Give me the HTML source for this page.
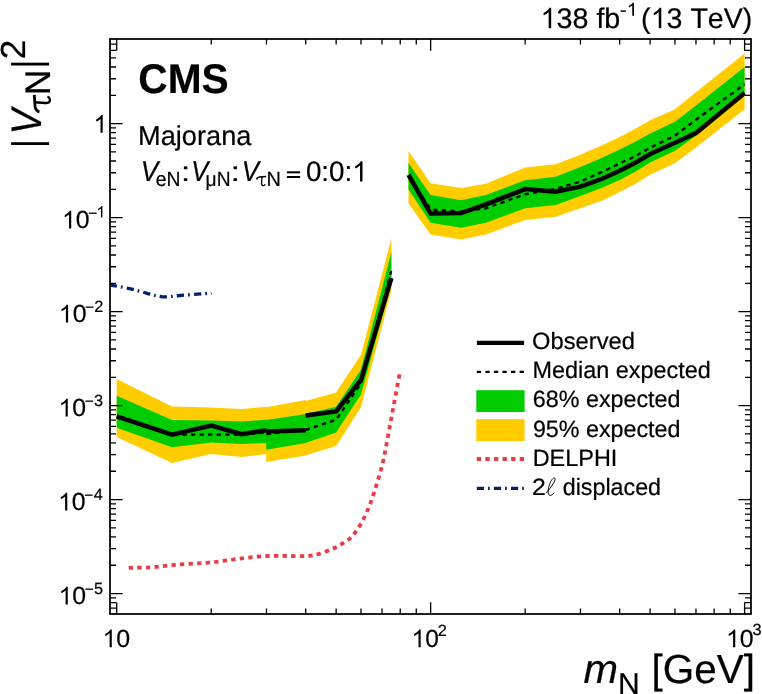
<!DOCTYPE html>
<html><head><meta charset="utf-8"><style>html,body{margin:0;padding:0;background:#fff}svg{display:block}text{font-kerning:none;font-variant-ligatures:none;text-rendering:geometricPrecision;fill:#000;stroke:#000;stroke-width:0.22px}</style></head><body>
<svg width="762" height="694" viewBox="0 0 762 694">
<rect width="762" height="694" fill="#fff"/>
<g style="will-change:transform">
<defs><clipPath id="cp"><rect x="110.0" y="39.0" width="641.0" height="575.0"/></clipPath></defs>
<polygon points="116.7,378.9 172.0,406.6 211.2,407.5 241.6,408.9 266.8,406.8 266.8,454.0 241.6,457.0 211.2,453.9 172.0,462.9 116.7,436.9" fill="#ffcc00"/>
<polygon points="266.2,407.2 306.0,399.9 306.0,455.5 266.2,462.1" fill="#ffcc00"/>
<polygon points="305.4,400.9 336.1,392.5 361.0,354.7 391.4,238.6 391.4,289.6 361.0,407.2 336.1,446.1 305.4,455.5" fill="#ffcc00"/>
<polygon points="408.5,151.0 430.6,183.2 461.1,188.1 485.9,183.7 525.2,167.5 555.6,164.2 580.4,154.7 601.5,145.4 619.7,137.1 635.7,128.4 650.1,120.2 675.0,109.2 696.0,92.2 744.6,53.4 744.6,109.2 696.0,147.5 675.0,163.3 650.1,174.8 635.7,183.7 619.7,192.0 601.5,200.9 580.4,208.2 555.6,216.8 525.2,220.0 485.9,234.6 461.1,239.6 430.6,234.6 408.5,203.4" fill="#ffcc00"/>
<polygon points="116.7,395.7 172.0,419.9 211.2,420.5 241.6,421.5 266.8,419.8 266.8,442.9 241.6,444.0 211.2,442.5 172.0,447.2 116.7,427.8" fill="#00cc00"/>
<polygon points="266.2,420.1 306.0,413.9 306.0,442.9 266.2,449.7" fill="#00cc00"/>
<polygon points="305.4,413.9 336.1,406.8 361.0,369.4 391.4,252.1 391.4,282.7 361.0,394.6 336.1,432.4 305.4,442.9" fill="#00cc00"/>
<polygon points="408.5,163.0 430.6,195.1 461.1,200.3 485.9,195.1 525.2,180.2 555.6,176.7 580.4,167.1 601.5,158.0 619.7,149.5 635.7,141.6 650.1,133.5 675.0,121.8 696.0,105.5 744.6,67.0 744.6,95.2 696.0,135.7 675.0,150.8 650.1,162.5 635.7,171.6 619.7,180.0 601.5,188.1 580.4,196.0 555.6,205.0 525.2,208.3 485.9,222.7 461.1,227.8 430.6,222.7 408.5,189.6" fill="#00cc00"/>
<polyline points="116.7,416.8 172.0,434.6 211.2,434.6 241.6,434.6 266.5,432.4" fill="none" stroke="#000" stroke-width="2.3" stroke-dasharray="4.3 4.26"/>
<polyline points="266.5,434.1 305.7,429.9" fill="none" stroke="#000" stroke-width="2.3" stroke-dasharray="4.3 4.26"/>
<polyline points="305.7,429.9 336.1,419.8 361.0,383.2 391.4,270.0" fill="none" stroke="#000" stroke-width="2.3" stroke-dasharray="4.3 4.26"/>
<polyline points="408.5,175.8 430.6,209.4 461.1,211.7 485.9,208.3 525.2,194.2 555.6,188.8 580.4,181.6 601.5,172.2 619.7,163.4 635.7,156.0 650.1,147.8 675.0,135.6 696.0,119.7 744.6,84.3" fill="none" stroke="#000" stroke-width="2.3" stroke-dasharray="4.3 4.26"/>
<polyline points="116.7,416.3 172.0,434.6 211.2,425.5 241.6,434.1 266.5,430.3" fill="none" stroke="#000" stroke-width="4.5" stroke-linejoin="miter"/>
<polyline points="266.5,431.6 305.7,430.3" fill="none" stroke="#000" stroke-width="4.5" stroke-linejoin="miter"/>
<polyline points="305.7,415.6 336.1,411.4 361.0,379.9 391.4,278.0" fill="none" stroke="#000" stroke-width="4.5" stroke-linejoin="miter"/>
<polyline points="408.5,174.9 430.6,213.5 461.1,213.1 485.9,204.3 525.2,189.1 555.6,191.8 580.4,186.6 601.5,179.0 619.7,170.7 635.7,162.5 650.1,154.0 675.0,142.7 696.0,133.0 744.6,93.0" fill="none" stroke="#000" stroke-width="4.5" stroke-linejoin="miter"/>
<path d="M128.7,567.8 C132.1,567.7 142.7,567.8 149.4,567.4 C156.1,567.0 162.4,566.0 169.0,565.4 C175.6,564.8 182.1,564.3 188.7,563.9 C195.3,563.5 201.8,563.3 208.4,562.7 C215.0,562.1 221.5,561.1 228.1,560.3 C234.7,559.4 241.2,558.3 247.8,557.6 C254.4,556.9 260.9,556.3 267.5,556.0 C274.1,555.7 280.6,556.0 287.2,556.0 C293.8,556.0 301.6,556.3 306.9,556.0 C312.1,555.7 314.4,555.2 318.7,554.0 C322.9,552.8 328.6,550.5 332.4,548.9 C336.2,547.3 338.2,546.2 341.4,544.2 C344.6,542.2 348.1,540.6 351.5,537.0 C354.9,533.4 358.5,528.1 361.6,522.6 C364.7,517.1 367.7,510.4 370.2,503.9 C372.7,497.4 374.7,490.4 376.8,483.7 C378.9,477.0 381.0,470.3 382.6,463.6 C384.2,456.9 385.3,450.2 386.6,443.5 C387.9,436.8 389.1,430.0 390.4,423.3 C391.6,416.6 392.9,409.7 394.1,403.2 C395.3,396.7 396.7,389.4 397.6,384.5 C398.5,379.6 399.3,375.6 399.6,373.8" fill="none" stroke="#e93d43" stroke-width="3.8" stroke-dasharray="4.3 4.28"/>
<path d="M108.6,284.7 C112.1,285.4 123.2,287.2 129.6,288.6 C136.0,290.0 141.5,291.9 147.0,293.3 C152.5,294.7 157.2,296.4 162.7,296.8 C168.2,297.2 174.2,295.9 180.0,295.5 C185.8,295.1 192.6,294.5 197.3,294.1 C202.0,293.7 206.1,293.5 208.4,293.3 C210.8,293.1 210.9,293.1 211.4,293.0" fill="none" stroke="#05206b" stroke-width="3.3" stroke-dasharray="7.3 4.0 1.7 4.1" stroke-dashoffset="-1.2" clip-path="url(#cp)"/>
<path d="M110.0,608.11h6.0 M751.0,608.11h-6.0 M110.0,602.66h6.0 M751.0,602.66h-6.0 M110.0,597.85h6.0 M751.0,597.85h-6.0 M110.0,593.55h12.6 M751.0,593.55h-12.6 M110.0,565.26h6.0 M751.0,565.26h-6.0 M110.0,548.71h6.0 M751.0,548.71h-6.0 M110.0,536.96h6.0 M751.0,536.96h-6.0 M110.0,527.85h6.0 M751.0,527.85h-6.0 M110.0,520.41h6.0 M751.0,520.41h-6.0 M110.0,514.12h6.0 M751.0,514.12h-6.0 M110.0,508.67h6.0 M751.0,508.67h-6.0 M110.0,503.86h6.0 M751.0,503.86h-6.0 M110.0,499.56h12.6 M751.0,499.56h-12.6 M110.0,471.27h6.0 M751.0,471.27h-6.0 M110.0,454.72h6.0 M751.0,454.72h-6.0 M110.0,442.97h6.0 M751.0,442.97h-6.0 M110.0,433.86h6.0 M751.0,433.86h-6.0 M110.0,426.42h6.0 M751.0,426.42h-6.0 M110.0,420.13h6.0 M751.0,420.13h-6.0 M110.0,414.68h6.0 M751.0,414.68h-6.0 M110.0,409.87h6.0 M751.0,409.87h-6.0 M110.0,405.57h12.6 M751.0,405.57h-12.6 M110.0,377.28h6.0 M751.0,377.28h-6.0 M110.0,360.73h6.0 M751.0,360.73h-6.0 M110.0,348.98h6.0 M751.0,348.98h-6.0 M110.0,339.87h6.0 M751.0,339.87h-6.0 M110.0,332.43h6.0 M751.0,332.43h-6.0 M110.0,326.14h6.0 M751.0,326.14h-6.0 M110.0,320.69h6.0 M751.0,320.69h-6.0 M110.0,315.88h6.0 M751.0,315.88h-6.0 M110.0,311.58h12.6 M751.0,311.58h-12.6 M110.0,283.29h6.0 M751.0,283.29h-6.0 M110.0,266.74h6.0 M751.0,266.74h-6.0 M110.0,254.99h6.0 M751.0,254.99h-6.0 M110.0,245.88h6.0 M751.0,245.88h-6.0 M110.0,238.44h6.0 M751.0,238.44h-6.0 M110.0,232.15h6.0 M751.0,232.15h-6.0 M110.0,226.70h6.0 M751.0,226.70h-6.0 M110.0,221.89h6.0 M751.0,221.89h-6.0 M110.0,217.59h12.6 M751.0,217.59h-12.6 M110.0,189.30h6.0 M751.0,189.30h-6.0 M110.0,172.75h6.0 M751.0,172.75h-6.0 M110.0,161.00h6.0 M751.0,161.00h-6.0 M110.0,151.89h6.0 M751.0,151.89h-6.0 M110.0,144.45h6.0 M751.0,144.45h-6.0 M110.0,138.16h6.0 M751.0,138.16h-6.0 M110.0,132.71h6.0 M751.0,132.71h-6.0 M110.0,127.90h6.0 M751.0,127.90h-6.0 M110.0,123.60h12.6 M751.0,123.60h-12.6 M110.0,95.31h6.0 M751.0,95.31h-6.0 M110.0,78.76h6.0 M751.0,78.76h-6.0 M110.0,67.01h6.0 M751.0,67.01h-6.0 M110.0,57.90h6.0 M751.0,57.90h-6.0 M110.0,50.46h6.0 M751.0,50.46h-6.0 M110.0,44.17h6.0 M751.0,44.17h-6.0 M116.70,614.0v-11.8 M116.70,39.0v11.8 M211.21,614.0v-5.6 M211.21,39.0v5.6 M266.49,614.0v-5.6 M266.49,39.0v5.6 M305.72,614.0v-5.6 M305.72,39.0v5.6 M336.14,614.0v-5.6 M336.14,39.0v5.6 M361.00,614.0v-5.6 M361.00,39.0v5.6 M382.02,614.0v-5.6 M382.02,39.0v5.6 M400.23,614.0v-5.6 M400.23,39.0v5.6 M416.28,614.0v-5.6 M416.28,39.0v5.6 M430.65,614.0v-11.8 M430.65,39.0v11.8 M525.16,614.0v-5.6 M525.16,39.0v5.6 M580.44,614.0v-5.6 M580.44,39.0v5.6 M619.67,614.0v-5.6 M619.67,39.0v5.6 M650.09,614.0v-5.6 M650.09,39.0v5.6 M674.95,614.0v-5.6 M674.95,39.0v5.6 M695.97,614.0v-5.6 M695.97,39.0v5.6 M714.18,614.0v-5.6 M714.18,39.0v5.6 M730.23,614.0v-5.6 M730.23,39.0v5.6 M744.60,614.0v-11.8 M744.60,39.0v11.8" stroke="#000" stroke-width="1.3" fill="none"/>
<rect x="110.0" y="39.0" width="641.0" height="575.0" fill="none" stroke="#000" stroke-width="1.75"/>
<g transform="translate(94.01,593.55) scale(1.0000,1)" font-family="Liberation Sans" font-size="16.30"><text x="0.00" y="0" xml:space="preserve">5</text></g>
<rect x="85.36" y="588.50" width="7.8" height="1.3"/>
<g transform="translate(58.53,604.45) scale(1.0000,1)" font-family="Liberation Sans" font-size="24.80"><path transform="translate(0.00,0) scale(0.01211,-0.01211)" d="M763,0H583V1147Q518,1085 412.5,1023T223,930V1104Q373,1174.5 485,1275T644,1470H763Z"/><text x="13.79" y="0" xml:space="preserve">0</text></g>
<g transform="translate(93.80,499.56) scale(1.0000,1)" font-family="Liberation Sans" font-size="16.30"><text x="0.00" y="0" xml:space="preserve">4</text></g>
<rect x="84.87" y="494.51" width="7.8" height="1.3"/>
<g transform="translate(58.04,510.46) scale(1.0000,1)" font-family="Liberation Sans" font-size="24.80"><path transform="translate(0.00,0) scale(0.01211,-0.01211)" d="M763,0H583V1147Q518,1085 412.5,1023T223,930V1104Q373,1174.5 485,1275T644,1470H763Z"/><text x="13.79" y="0" xml:space="preserve">0</text></g>
<g transform="translate(94.05,405.57) scale(1.0000,1)" font-family="Liberation Sans" font-size="16.30"><text x="0.00" y="0" xml:space="preserve">3</text></g>
<rect x="85.36" y="400.52" width="7.8" height="1.3"/>
<g transform="translate(58.53,416.47) scale(1.0000,1)" font-family="Liberation Sans" font-size="24.80"><path transform="translate(0.00,0) scale(0.01211,-0.01211)" d="M763,0H583V1147Q518,1085 412.5,1023T223,930V1104Q373,1174.5 485,1275T644,1470H763Z"/><text x="13.79" y="0" xml:space="preserve">0</text></g>
<g transform="translate(94.17,311.58) scale(1.0000,1)" font-family="Liberation Sans" font-size="16.30"><text x="0.00" y="0" xml:space="preserve">2</text></g>
<rect x="85.68" y="306.53" width="7.8" height="1.3"/>
<g transform="translate(58.86,322.48) scale(1.0000,1)" font-family="Liberation Sans" font-size="24.80"><path transform="translate(0.00,0) scale(0.01211,-0.01211)" d="M763,0H583V1147Q518,1085 412.5,1023T223,930V1104Q373,1174.5 485,1275T644,1470H763Z"/><text x="13.79" y="0" xml:space="preserve">0</text></g>
<g transform="translate(96.33,217.59) scale(1.0000,1)" font-family="Liberation Sans" font-size="16.30"><path transform="translate(0.00,0) scale(0.00796,-0.00796)" d="M763,0H583V1147Q518,1085 412.5,1023T223,930V1104Q373,1174.5 485,1275T644,1470H763Z"/></g>
<rect x="88.80" y="212.54" width="7.8" height="1.3"/>
<g transform="translate(61.98,228.49) scale(1.0000,1)" font-family="Liberation Sans" font-size="24.80"><path transform="translate(0.00,0) scale(0.01211,-0.01211)" d="M763,0H583V1147Q518,1085 412.5,1023T223,930V1104Q373,1174.5 485,1275T644,1470H763Z"/><text x="13.79" y="0" xml:space="preserve">0</text></g>
<g transform="translate(93.46,132.80) scale(1.0000,1)" font-family="Liberation Sans" font-size="24.80"><path transform="translate(0.00,0) scale(0.01211,-0.01211)" d="M763,0H583V1147Q518,1085 412.5,1023T223,930V1104Q373,1174.5 485,1275T644,1470H763Z"/></g>
<g transform="translate(102.48,647.20) scale(1.0073,1)" font-family="Liberation Sans" font-size="24.80"><path transform="translate(0.00,0) scale(0.01211,-0.01211)" d="M763,0H583V1147Q518,1085 412.5,1023T223,930V1104Q373,1174.5 485,1275T644,1470H763Z"/><text x="13.79" y="0" xml:space="preserve">0</text></g>
<g transform="translate(411.54,647.20) scale(0.9864,1)" font-family="Liberation Sans" font-size="24.80"><path transform="translate(0.00,0) scale(0.01211,-0.01211)" d="M763,0H583V1147Q518,1085 412.5,1023T223,930V1104Q373,1174.5 485,1275T644,1470H763Z"/><text x="13.79" y="0" xml:space="preserve">0</text></g>
<g transform="translate(437.79,635.60) scale(1.0000,1)" font-family="Liberation Sans" font-size="16.30"><text x="0.00" y="0" xml:space="preserve">2</text></g>
<g transform="translate(725.99,647.20) scale(1.0031,1)" font-family="Liberation Sans" font-size="24.80"><path transform="translate(0.00,0) scale(0.01211,-0.01211)" d="M763,0H583V1147Q518,1085 412.5,1023T223,930V1104Q373,1174.5 485,1275T644,1470H763Z"/><text x="13.79" y="0" xml:space="preserve">0</text></g>
<g transform="translate(752.39,635.40) scale(1.0000,1)" font-family="Liberation Sans" font-size="16.30"><text x="0.00" y="0" xml:space="preserve">3</text></g>
<g transform="translate(540.47,28.20) scale(1.0119,1)" font-family="Liberation Sans" font-size="28.40"><path transform="translate(0.00,0) scale(0.01387,-0.01387)" d="M763,0H583V1147Q518,1085 412.5,1023T223,930V1104Q373,1174.5 485,1275T644,1470H763Z"/><text x="15.79" y="0" xml:space="preserve">38 fb</text></g>
<g transform="translate(620.11,15.70) scale(1.0822,1)" font-family="Liberation Sans" font-size="18.20"><text x="0.00" y="0">-</text><path transform="translate(6.05,0) scale(0.00889,-0.00889)" d="M763,0H583V1147Q518,1085 412.5,1023T223,930V1104Q373,1174.5 485,1275T644,1470H763Z"/></g>
<g transform="translate(641.11,28.20) scale(1.0076,1)" font-family="Liberation Sans" font-size="28.40"><text x="0.00" y="0">(</text><path transform="translate(9.44,0) scale(0.01387,-0.01387)" d="M763,0H583V1147Q518,1085 412.5,1023T223,930V1104Q373,1174.5 485,1275T644,1470H763Z"/><text x="25.24" y="0" xml:space="preserve">3 TeV)</text></g>
<g transform="translate(138.27,93.10) scale(0.9831,1)" font-family="Liberation Sans" font-size="41.40" font-weight="bold"><text x="0.00" y="0" xml:space="preserve">CMS</text></g>
<g transform="translate(138.06,144.80) scale(0.9923,1)" font-family="Liberation Sans" font-size="27.40"><text x="0.00" y="0" xml:space="preserve">Majorana</text></g>
<g transform="translate(140.80,181.20) scale(0.9200,1)" font-family="Liberation Sans" font-size="28.60" font-style="italic"><text x="0.00" y="0" xml:space="preserve">V</text></g>
<g transform="translate(155.68,185.70) scale(0.9485,1)" font-family="Liberation Sans" font-size="20.40"><text x="0.00" y="0" xml:space="preserve">eN</text></g>
<g transform="translate(181.05,181.20) scale(1.1935,1)" font-family="Liberation Sans" font-size="27.50"><text x="0.00" y="0" xml:space="preserve">:</text></g>
<g transform="translate(191.26,181.20) scale(0.8934,1)" font-family="Liberation Sans" font-size="28.60" font-style="italic"><text x="0.00" y="0" xml:space="preserve">V</text></g>
<g transform="translate(205.61,185.70) scale(0.9398,1)" font-family="Liberation Sans" font-size="20.40"><text x="0.00" y="0" xml:space="preserve">μN</text></g>
<g transform="translate(230.65,181.20) scale(1.1935,1)" font-family="Liberation Sans" font-size="27.50"><text x="0.00" y="0" xml:space="preserve">:</text></g>
<g transform="translate(241.64,181.20) scale(0.9040,1)" font-family="Liberation Sans" font-size="28.60" font-style="italic"><text x="0.00" y="0" xml:space="preserve">V</text></g>
<g transform="translate(256.20,185.70) scale(19.8039,20.4000)" fill="none" stroke="#000" stroke-linecap="butt"><path d="M0.018,-0.305 C0.035,-0.38 0.08,-0.418 0.16,-0.428 L0.505,-0.452" stroke-width="0.08"/><path d="M0.292,-0.45 L0.272,-0.14 C0.265,-0.045 0.305,0.0 0.365,-0.004 C0.41,-0.008 0.44,-0.035 0.455,-0.075" stroke-width="0.066"/></g>
<g transform="translate(266.46,185.70) scale(0.9760,1)" font-family="Liberation Sans" font-size="20.40"><text x="0.00" y="0" xml:space="preserve">N</text></g>
<rect x="286.9" y="171.3" width="13.2" height="2.0"/><rect x="286.9" y="176.0" width="13.2" height="2.0"/>
<g transform="translate(305.89,181.40) scale(0.9852,1)" font-family="Liberation Sans" font-size="28.20"><text x="0.00" y="0">0:0:</text><path transform="translate(46.95,0) scale(0.01377,-0.01377)" d="M763,0H583V1147Q518,1085 412.5,1023T223,930V1104Q373,1174.5 485,1275T644,1470H763Z"/></g>
<line x1="476.9" x2="524.1" y1="342.8" y2="342.8" stroke="#000" stroke-width="4.2"/>
<line x1="476.8" x2="524.1" y1="371.8" y2="371.8" stroke="#000" stroke-width="2.3" stroke-dasharray="4.3 4.26"/>
<rect x="476.3" y="390.2" width="48.3" height="21.8" fill="#00cc00"/>
<rect x="476.3" y="419.2" width="48.3" height="21.8" fill="#ffcc00"/>
<line x1="476.8" x2="524.1" y1="459.0" y2="459.0" stroke="#e93d43" stroke-width="3.8" stroke-dasharray="4.3 4.28"/>
<line x1="476.8" x2="524.1" y1="488.4" y2="488.4" stroke="#05206b" stroke-width="3.2" stroke-dasharray="7.2 4.0 1.7 4.2"/>
<g transform="translate(532.07,349.10) scale(1.0051,1)" font-family="Liberation Sans" font-size="23.60"><text x="0.00" y="0" xml:space="preserve">Observed</text></g>
<g transform="translate(532.47,378.30) scale(0.9917,1)" font-family="Liberation Sans" font-size="23.60"><text x="0.00" y="0" xml:space="preserve">Median expected</text></g>
<g transform="translate(532.83,407.30) scale(0.9875,1)" font-family="Liberation Sans" font-size="23.60"><text x="0.00" y="0" xml:space="preserve">68% expected</text></g>
<g transform="translate(532.89,436.50) scale(0.9871,1)" font-family="Liberation Sans" font-size="23.60"><text x="0.00" y="0" xml:space="preserve">95% expected</text></g>
<g transform="translate(532.67,465.70) scale(0.9935,1)" font-family="Liberation Sans" font-size="23.60"><text x="0.00" y="0" xml:space="preserve">DELPHI</text></g>
<g transform="translate(531.96,495.00) scale(1.0523,1)" font-family="Liberation Sans" font-size="23.60"><text x="0.00" y="0" xml:space="preserve">2</text></g>
<path d="M546.1,492.7 C548,491.2 552,486 553.7,482.9 C555,480.5 555.7,478.7 554.7,477.95 C553.7,477.3 551.5,479.5 550.4,482.2 C549,485.5 548,489.5 548.1,492 C548.2,495 549.5,495.8 550.7,495.4 C552,494.9 553.2,494 554,493.2" fill="none" stroke="#000" stroke-width="0.95" stroke-linecap="round"/>
<g transform="translate(562.71,495.00) scale(0.9865,1)" font-family="Liberation Sans" font-size="23.60"><text x="0.00" y="0" xml:space="preserve">displaced</text></g>
<g transform="translate(583.38,683.20) scale(1.0105,1)" font-family="Liberation Sans" font-size="41.00" font-style="italic"><text x="0.00" y="0" xml:space="preserve">m</text></g>
<g transform="translate(618.11,694.10) scale(1.0011,1)" font-family="Liberation Sans" font-size="30.10"><text x="0.00" y="0" xml:space="preserve">N</text></g>
<g transform="translate(651.57,682.90) scale(0.9964,1)" font-family="Liberation Sans" font-size="40.60"><text x="0.00" y="0" xml:space="preserve">[GeV]</text></g>
<rect x="11.1" y="142.2" width="38" height="2.8"/><rect x="11.1" y="62.7" width="38" height="2.8"/>
<g transform="rotate(-90)">
<g transform="translate(-134.44,40.50) scale(0.8919,1)" font-family="Liberation Sans" font-size="42.80" font-style="italic"><text x="0.00" y="0" xml:space="preserve">V</text></g>
<g transform="translate(-112.52,50.10) scale(35.0980,35.0000)" fill="none" stroke="#000" stroke-linecap="butt"><path d="M0.018,-0.305 C0.035,-0.38 0.08,-0.418 0.16,-0.428 L0.505,-0.452" stroke-width="0.08"/><path d="M0.292,-0.45 L0.272,-0.14 C0.265,-0.045 0.305,0.0 0.365,-0.004 C0.41,-0.008 0.44,-0.035 0.455,-0.075" stroke-width="0.066"/></g>
<g transform="translate(-95.09,50.10) scale(0.9825,1)" font-family="Liberation Sans" font-size="35.60"><text x="0.00" y="0" xml:space="preserve">N</text></g>
<g transform="translate(-59.36,25.10) scale(1.0105,1)" font-family="Liberation Sans" font-size="34.80"><text x="0.00" y="0" xml:space="preserve">2</text></g>
</g>
</g></svg></body></html>
